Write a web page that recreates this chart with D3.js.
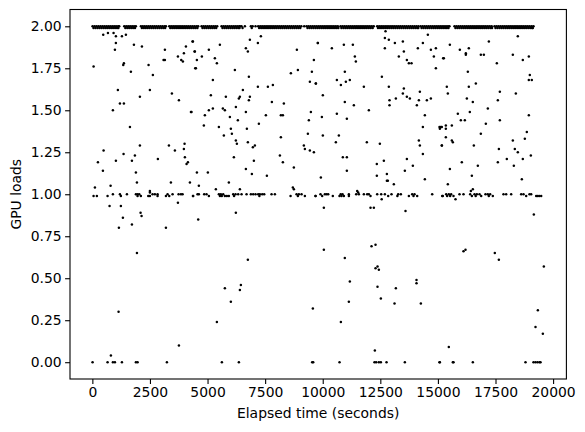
<!DOCTYPE html>
<html>
<head>
<meta charset="utf-8">
<script src="https://cdn.jsdelivr.net/npm/d3@7"></script>
<style>
  body { margin: 0; background: #fff; }
  text { font-family: "DejaVu Sans", sans-serif; }
</style>
</head>
<body>
<svg id="chart"></svg>
<script>
// dense band at 2.00 (elapsed seconds)
const fullLoadX = [9,95,180,265,350,435,520,605,690,775,860,945,1030,1115,1165,
  1384,1470,1555,1640,1725,1810,1890,
  2107,2190,2275,2360,2445,2530,2615,2700,2785,2870,2955,3040,3125,3193,
  3337,3420,3505,3590,3675,3760,3845,3930,4015,4100,4185,4270,4355,4440,4525,4595,
  4740,4825,4910,4995,5080,5165,5250,5335,5420,
  5607,5690,5775,5860,5945,6030,6115,6200,6285,6370,6403,
  6475,6620,6881,6960,7083,
  7199,7285,7370,7455,7540,7625,7710,7795,7880,7965,8050,8135,8220,8305,8390,8475,8560,8645,8730,8815,8900,8985,9070,
  9196,
  9297,9380,9465,9550,9635,9720,9805,9890,9975,10060,10145,10230,10315,10400,10485,10570,10655,
  10772,10855,10940,11025,11110,11195,11280,11365,11450,11535,11620,11705,11790,11875,11960,12045,12130,12215,
  12364,12450,12535,12620,12705,12790,12875,12960,13045,13130,13215,13300,13385,13470,13555,13640,13725,13810,13895,13980,14065,14150,
  14245,14330,14415,14500,14585,14670,14755,14840,14925,15010,15095,15180,15265,15350,15435,15500,
  15720,15805,15890,15975,16060,16145,16230,16315,16400,16485,16570,16655,16740,16825,16910,16995,17080,17165,17250,17335,
  17456,17540,17625,17710,17795,17880,17965,18050,18135,18220,18305,18390,18475,18560,18645,18730,18815,18900,18985,19070,19150];

// dense band just below, at 1.99
const nearFullX = [50,135,220,305,390,475,560,645,730,815,900,985,1070,1130,
  1430,1515,1600,1685,1770,1850,
  2150,2235,2320,2405,2490,2575,2660,2745,2830,2915,3000,3080,3160,
  3380,3465,3550,3635,3720,3805,3890,3975,4060,4145,4230,4315,4400,4480,4560,
  4780,4865,4950,5035,5120,5205,5290,5375,
  5650,5735,5820,5905,5990,6075,6160,6245,6330,6390,6520,6920,
  7240,7325,7410,7495,7580,7665,7750,7835,7920,8005,8090,8175,8260,8345,8430,8515,8600,8685,8770,8855,8940,9025,
  9340,9425,9510,9595,9680,9765,9850,9935,10020,10105,10190,10275,10360,10445,10530,10610,10680,
  10810,10895,10980,11065,11150,11235,11320,11405,11490,11575,11660,11745,11830,11915,12000,12085,12170,
  12400,12485,12570,12655,12740,12825,12910,12995,13080,13165,13250,13335,13420,13505,13590,13675,13760,13845,13930,14015,14100,14150,
  14290,14375,14460,14545,14630,14715,14800,14885,14970,15055,15140,15225,15310,15390,15460,
  15760,15845,15930,16015,16100,16185,16270,16355,16440,16525,16610,16695,16780,16865,16950,17035,17120,17205,17290,17350,
  17500,17585,17670,17755,17840,17925,18010,18095,18180,18265,18350,18435,18520,18605,18690,18775,18860,18945,19030,19090,19120];

// band at 1.00
const halfLoadX = [892,1196,1500,1890,1963,2035,2614,2715,2831,3265,3482,3743,3844,3916,
  4565,4623,4855,4956,5492,5578,5680,6114,6215,6331,6476,6693,6881,6982,7083,7199,7271,7373,7460,7778,7923,8863,8964,9080,
  9904,10092,10165,10237,10780,10860,11134,11452,11568,11785,11930,12002,12364,12538,12697,12986,13276,13391,13883,13985,14751,
  15358,15474,15575,15937,16111,16400,16588,16690,16805,17066,17167,17268,17847,17963,18180,18614,18715,18976,19048];

// band at 0.99
const nearHalfX = [53,197,660,1239,1963,2107,2426,2498,2831,3193,3337,4365,
  4377,5057,5539,5620,5752,5839,5926,6150,7250,8603,8920,9225,9688,
  9687,9976,10439,10729,10816,10917,11134,12075,12842,13239,13739,13940,14100,15214,
  15185,15400,15530,15677,16473,16640,16878,17210,17384,18831,19265,19330,19400,19483];

// band at 0.00
const idleX = [9,660,892,979,1283,1890,1963,3236,5622,6360,9543,9586,10729,12248,12321,12436,12523,12769,
  13565,15069,15084,15648,15677,16516,18802,19149,19236,19323,19410,19453];

// remaining loose points [seconds, load]
const scattered = [
  [2498,1.01],[11496,1.02],[11539,1.01],[12560,0.97],[15764,0.97],[16430,1.02],[12726,1.97],
  [472,1.95],[675,1.96],[921,1.96],[1022,1.94],[1283,1.94],[1456,1.95],[1022,1.90],[979,1.86],[1804,1.89],
  [2151,1.88],[3149,1.86],[4061,1.88],[4365,1.91],[4437,1.85],[3714,1.82],[3974,1.84],[3858,1.80],[3930,1.79],
  [3091,1.80],[3149,1.80],[53,1.76],[1369,1.78],[1340,1.77],[1673,1.73],[2440,1.77],[2628,1.71],[4466,1.75],
  [1109,1.62],[2498,1.62],[3453,1.60],[2064,1.58],[1196,1.54],[1369,1.54],[3757,1.56],[892,1.50],[4278,1.49],
  [1630,1.40],[487,1.26],[2064,1.29],[3323,1.29],[4003,1.30],[3583,1.26],[3974,1.27],[1355,1.24],[1847,1.23],
  [241,1.19],[1022,1.20],[1717,1.20],[2845,1.21],[4017,1.22],[4090,1.18],[4148,1.19],[458,1.14],[1890,1.13],
  [111,1.04],[791,1.05],[1934,1.07],[3409,1.07],[4235,1.07],[2498,1.02],
  [4348,1.91],[4450,1.85],[4537,1.80],[4754,1.82],[5057,1.86],[5535,1.89],[5318,1.81],[5405,1.78],[4493,1.75],
  [6664,1.87],[6750,1.85],[6837,1.92],[7185,1.90],[7315,1.94],[8878,1.86],[9789,1.90],[9616,1.80],[6186,1.74],
  [6794,1.70],[8617,1.72],[8921,1.74],[9529,1.73],[5231,1.68],[9442,1.67],[9702,1.66],[6533,1.62],[7185,1.64],
  [7619,1.64],[7836,1.65],[5144,1.59],[5795,1.58],[6403,1.58],[6360,1.57],[6837,1.58],[6794,1.56],[7792,1.55],
  [8313,1.54],[4305,1.49],[5057,1.50],[5231,1.51],[5665,1.51],[5752,1.50],[6229,1.52],[4884,1.47],[5969,1.46],
  [6664,1.49],[7532,1.47],[8183,1.47],[8270,1.47],[9485,1.49],[6316,1.44],[4840,1.41],[5492,1.40],[6012,1.39],
  [6707,1.39],[7228,1.42],[9398,1.44],[5708,1.35],[6056,1.36],[6229,1.32],[6273,1.30],[6750,1.31],[7054,1.29],
  [6967,1.28],[8183,1.34],[9355,1.36],[9181,1.29],[9225,1.27],[9442,1.26],[9616,1.25],[6143,1.22],[8140,1.23],
  [8270,1.19],[7011,1.20],[8747,1.16],[6664,1.15],[6924,1.12],[7575,1.11],[4537,1.13],[5014,1.13],[5926,1.07],
  [4623,1.05],[5361,1.03],[6403,1.03],[8704,1.04],[8747,1.03],
  [9788,1.90],[10396,1.87],[10917,1.89],[11308,1.89],[11395,1.82],[11438,1.79],[12697,1.93],[12870,1.92],
  [12697,1.87],[13131,1.90],[13478,1.91],[13522,1.85],[13304,1.82],[13652,1.80],[13739,1.78],[13854,1.78],
  [14129,1.87],[14346,1.90],[14563,1.95],[14694,1.86],[14911,1.87],[14824,1.82],[15229,1.81],[14911,1.75],
  [10960,1.73],[12567,1.70],[9701,1.66],[10613,1.68],[10787,1.65],[11004,1.67],[11177,1.68],[11785,1.64],
  [12870,1.64],[13522,1.63],[13478,1.60],[13652,1.58],[13782,1.57],[14216,1.61],[10005,1.59],[10960,1.55],
  [11351,1.53],[12002,1.50],[12899,1.56],[12899,1.53],[13174,1.57],[14173,1.56],[14086,1.53],[14520,1.56],
  [14694,1.57],[10613,1.48],[9962,1.46],[11047,1.45],[14433,1.47],[14346,1.40],[15128,1.40],[15084,1.39],
  [10005,1.35],[10700,1.35],[10570,1.31],[11915,1.31],[12480,1.30],[14173,1.32],[14216,1.29],[15171,1.29],
  [14346,1.24],[10873,1.22],[11047,1.22],[13652,1.21],[12349,1.18],[12653,1.20],[13912,1.17],[11047,1.14],
  [13565,1.14],[12349,1.11],[12784,1.12],[12784,1.08],[12827,1.08],[13087,1.06],[14433,1.09],[9919,1.10],
  [15518,1.89],[15952,1.86],[16342,1.87],[16212,1.83],[16212,1.84],[16863,1.83],[16994,1.83],[17211,1.91],
  [18469,1.94],[18252,1.83],[18686,1.80],[18947,1.82],[15257,1.81],[17558,1.78],[16299,1.73],[18990,1.71],
  [18947,1.68],[19077,1.68],[15387,1.64],[16342,1.64],[16646,1.66],[17688,1.61],[15431,1.60],[18382,1.60],
  [16256,1.57],[16516,1.55],[17601,1.56],[17167,1.51],[15865,1.48],[16386,1.49],[15995,1.44],[16169,1.44],
  [17688,1.44],[18947,1.47],[17080,1.42],[15069,1.40],[15170,1.40],[15344,1.41],[15344,1.39],[15604,1.41],
  [15344,1.34],[15604,1.32],[15648,1.31],[15170,1.29],[16863,1.36],[18860,1.37],[18773,1.33],[18252,1.32],
  [16559,1.29],[17645,1.27],[18339,1.27],[18469,1.25],[19034,1.23],[18686,1.21],[17992,1.21],[16038,1.19],
  [17601,1.19],[18296,1.17],[16733,1.17],[15518,1.15],[16473,1.11],[15431,1.06],[18643,1.09],[16516,1.03],
  [747,0.93],[1239,0.93],[2093,0.89],[1326,0.86],[2136,0.87],[1717,0.82],[1152,0.80],[3193,0.80],[3714,0.95],
  [1934,0.65],[1138,0.30],[3757,0.10],[805,0.04],
  [4594,0.85],[6229,0.89],[6750,0.61],[5752,0.44],[6447,0.46],[6403,0.43],[6012,0.36],[5405,0.24],[9572,0.32],
  [10049,0.92],[12075,0.92],[12219,0.92],[13594,0.90],[10049,0.67],[12118,0.69],[12292,0.70],[10960,0.62],
  [12292,0.56],[12378,0.57],[12436,0.55],[11177,0.48],[14071,0.49],[14071,0.47],[12378,0.45],[13174,0.44],
  [12523,0.38],[11134,0.36],[13116,0.35],[14260,0.35],[10787,0.24],[12263,0.07],
  [19164,0.88],[16111,0.66],[16198,0.67],[17471,0.65],[17645,0.61],[19598,0.57],[19338,0.31],[19236,0.21],
  [19555,0.17],[15474,0.09]
];

const xTicks = [0, 2500, 5000, 7500, 10000, 12500, 15000, 17500, 20000];
const yTicks = [0, 0.25, 0.5, 0.75, 1, 1.25, 1.5, 1.75, 2];

const points = [
  ...fullLoadX.map(t => [t, 2.0]),
  ...nearFullX.map(t => [t, 1.99]),
  ...halfLoadX.map(t => [t, 1.0]),
  ...nearHalfX.map(t => [t, 0.99]),
  ...idleX.map(t => [t, 0]),
  ...scattered
];

const W = 585, H = 432;
const margin = {top: 9.5, right: 18.6, bottom: 53, left: 70};
const width = W - margin.left - margin.right;
const height = H - margin.top - margin.bottom;

const svg = d3.select("#chart").attr("width", W).attr("height", H);
const g = svg.append("g").attr("transform", `translate(${margin.left},${margin.top})`);

// matplotlib style 5% padding around the data
const xExt = d3.extent(points, d => d[0]);
const yExt = d3.extent(points, d => d[1]);
const xPad = (xExt[1] - xExt[0]) * 0.05;
const yPad = (yExt[1] - yExt[0]) * 0.05;
const x = d3.scaleLinear().domain([xExt[0] - xPad, xExt[1] + xPad]).range([0, width]);
const y = d3.scaleLinear().domain([yExt[0] - yPad, yExt[1] + yPad]).range([height, 0]);

g.append("g")
  .selectAll("circle")
  .data(points)
  .join("circle")
  .attr("cx", d => x(d[0]))
  .attr("cy", d => y(d[1]))
  .attr("r", 1.25)
  .attr("fill", "#000");

const xAxis = g.append("g")
  .attr("transform", `translate(0,${height})`)
  .call(d3.axisBottom(x).tickValues(xTicks).tickFormat(d3.format("d")).tickSize(4.9).tickPadding(3.5));
const yAxis = g.append("g")
  .call(d3.axisLeft(y).tickValues(yTicks).tickFormat(d3.format(".2f")).tickSize(4.9).tickPadding(3.5));

[xAxis, yAxis].forEach(a => {
  a.select(".domain").remove();
  a.selectAll(".tick line").attr("stroke", "#000").attr("stroke-width", 1.1);
  a.selectAll(".tick text")
    .attr("fill", "#000")
    .style("font-size", "13.9px")
    .style("font-family", "'DejaVu Sans', sans-serif");
});

g.append("rect")
  .attr("width", width)
  .attr("height", height)
  .attr("fill", "none")
  .attr("stroke", "#000")
  .attr("stroke-width", 1.1);

svg.append("text")
  .attr("x", margin.left + width / 2)
  .attr("y", 418)
  .attr("text-anchor", "middle")
  .style("font-size", "13.9px")
  .text("Elapsed time (seconds)");

svg.append("text")
  .attr("transform", `translate(16,${margin.top + height / 2}) rotate(-90)`)
  .attr("dy", "0.35em")
  .attr("text-anchor", "middle")
  .style("font-size", "13.9px")
  .text("GPU loads");
</script>
</body>
</html>
